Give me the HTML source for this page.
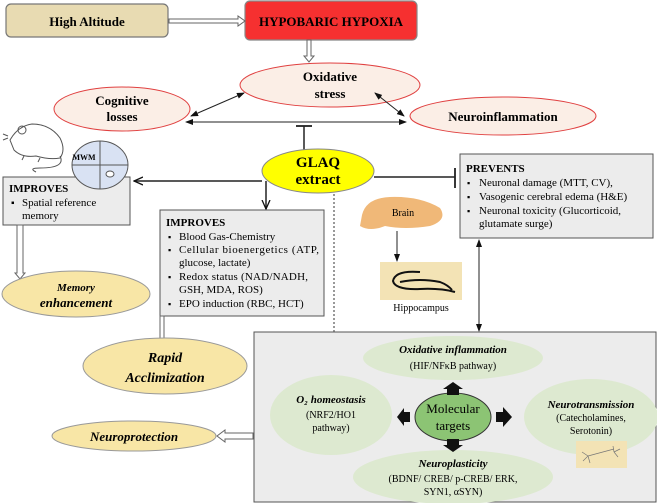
<!DOCTYPE html>
<html><head><meta charset="utf-8"><style>
body{margin:0;background:#fff}
svg{display:block;font-family:"Liberation Serif",serif}
</style></head><body>
<svg width="657" height="503" viewBox="0 0 657 503">
<defs>
<marker id="a" markerWidth="8" markerHeight="8" refX="7" refY="4" orient="auto-start-reverse" markerUnits="userSpaceOnUse"><path d="M0,1 L8,4 L0,7 z" fill="#111"/></marker>
<marker id="b" markerWidth="10" markerHeight="10" refX="9" refY="5" orient="auto-start-reverse" markerUnits="userSpaceOnUse"><path d="M0,1 L9,5 L0,9" fill="none" stroke="#111" stroke-width="1.3"/></marker>
</defs>
<rect x="6" y="4" width="162" height="33" rx="5" fill="#e8dbb2" stroke="#777" stroke-width="1.2"/>
<text x="87" y="26" text-anchor="middle" font-weight="bold" font-size="13">High Altitude</text>
<rect x="245" y="1" width="172" height="39" rx="5" fill="#f63030" stroke="#888" stroke-width="1.2"/>
<text x="331" y="26" text-anchor="middle" font-weight="bold" font-size="13">HYPOBARIC HYPOXIA</text>
<path d="M169,19 H238 V16 L245,21 L238,26 V23 H169 z" fill="#fff" stroke="#666"/>
<path d="M307,40 V56 H304 L309,62 L314,56 H311 V40 z" fill="#fff" stroke="#666"/>
<ellipse cx="330" cy="85" rx="90" ry="22" fill="#fbeee6" stroke="#e04040"/>
<text x="330" y="81" text-anchor="middle" font-weight="bold" font-size="13">Oxidative</text>
<text x="330" y="98" text-anchor="middle" font-weight="bold" font-size="13">stress</text>
<ellipse cx="122" cy="109" rx="68" ry="22" fill="#fbeee6" stroke="#e04040"/>
<text x="122" y="105" text-anchor="middle" font-weight="bold" font-size="13">Cognitive</text>
<text x="122" y="121" text-anchor="middle" font-weight="bold" font-size="13">losses</text>
<ellipse cx="503" cy="116" rx="93" ry="19" fill="#fbeee6" stroke="#e04040"/>
<text x="503" y="121" text-anchor="middle" font-weight="bold" font-size="13">Neuroinflammation</text>
<line x1="191" y1="116" x2="244" y2="93" stroke="#222" marker-start="url(#a)" marker-end="url(#a)"/>
<line x1="375" y1="93" x2="404" y2="116" stroke="#222" marker-start="url(#a)" marker-end="url(#a)"/>
<line x1="186" y1="122" x2="406" y2="122" stroke="#222" marker-start="url(#a)" marker-end="url(#a)"/>
<line x1="304" y1="126" x2="304" y2="151" stroke="#222" stroke-width="1.5"/>
<line x1="296" y1="126" x2="312" y2="126" stroke="#222" stroke-width="1.8"/>
<ellipse cx="318" cy="171" rx="56" ry="22" fill="#ffff00" stroke="#888"/>
<text x="318" y="167" text-anchor="middle" font-weight="bold" font-size="15">GLAQ</text>
<text x="318" y="184" text-anchor="middle" font-weight="bold" font-size="15">extract</text>
<line x1="262" y1="181" x2="134" y2="181" stroke="#222" stroke-width="1.5" marker-end="url(#b)"/>
<line x1="266" y1="181" x2="266" y2="209" stroke="#222" stroke-width="1.5" marker-end="url(#b)"/>
<line x1="374" y1="177" x2="455" y2="177" stroke="#222" stroke-width="1.5"/>
<line x1="455" y1="168" x2="455" y2="188" stroke="#222" stroke-width="1.8"/>
<line x1="334" y1="194" x2="334" y2="333" stroke="#333" stroke-dasharray="2,2"/>
<g fill="none" stroke="#555" stroke-width="1">
<path d="M10,140 Q18,126 32,124 Q50,124 60,138 Q66,150 60,158 Q50,160 36,156 Q22,158 14,150 z"/>
<path d="M60,156 Q66,168 40,168 Q28,168 36,172"/>
<path d="M24,156 L22,160 M40,158 L38,162"/>
<circle cx="22" cy="130" r="4"/>
<path d="M8,136 L3,134 M8,138 L3,140"/>
</g>
<rect x="3" y="177" width="127" height="48" fill="#ececec" stroke="#555"/>
<text x="9" y="192" font-weight="bold" font-size="11">IMPROVES</text>
<text x="11" y="206" font-size="10">▪</text><text x="22" y="206" font-size="11">Spatial reference</text>
<text x="22" y="219" font-size="11">memory</text>
<ellipse cx="100" cy="165" rx="28" ry="24" fill="#d9e2f3" stroke="#555"/>
<line x1="72" y1="165" x2="128" y2="165" stroke="#555"/>
<line x1="100" y1="141" x2="100" y2="189" stroke="#555"/>
<ellipse cx="110" cy="174" rx="4" ry="3" fill="#fff" stroke="#555"/>
<text x="84" y="160" text-anchor="middle" font-weight="bold" font-size="8">MWM</text>
<path d="M17,225 V273 H15 L20,279 L25,273 H23 V225 z" fill="#fff" stroke="#666"/>
<ellipse cx="76" cy="294" rx="74" ry="23" fill="#f8e6a6" stroke="#999"/>
<text x="76" y="291" text-anchor="middle" font-weight="bold" font-style="italic" font-size="11">Memory</text>
<text x="76" y="307" text-anchor="middle" font-weight="bold" font-style="italic" font-size="13">enhancement</text>
<rect x="160" y="210" width="164" height="106" fill="#ececec" stroke="#555"/>
<text x="166" y="226" font-weight="bold" font-size="11">IMPROVES</text>
<g font-size="11">
<text x="168" y="240" font-size="9">▪</text><text x="179" y="240">Blood Gas-Chemistry</text>
<text x="168" y="253" font-size="9">▪</text><text x="179" y="253" textLength="140">Cellular bioenergetics (ATP,</text>
<text x="179" y="266">glucose, lactate)</text>
<text x="168" y="280" font-size="9">▪</text><text x="179" y="280" textLength="129">Redox status (NAD/NADH,</text>
<text x="179" y="293">GSH, MDA, ROS)</text>
<text x="168" y="307" font-size="9">▪</text><text x="179" y="307">EPO induction (RBC, HCT)</text>
</g>
<path d="M160,316 V342 H157 L162,348 L167,342 H164 V316 z" fill="#fff" stroke="#666"/>
<ellipse cx="165" cy="366" rx="82" ry="28" fill="#f8e6a6" stroke="#999"/>
<text x="165" y="362" text-anchor="middle" font-weight="bold" font-style="italic" font-size="14">Rapid</text>
<text x="165" y="382" text-anchor="middle" font-weight="bold" font-style="italic" font-size="14">Acclimization</text>
<ellipse cx="134" cy="436" rx="82" ry="15" fill="#f8e6a6" stroke="#999"/>
<text x="134" y="441" text-anchor="middle" font-weight="bold" font-style="italic" font-size="13">Neuroprotection</text>
<path d="M253,433 H225 V430 L217,436 L225,442 V439 H253 z" fill="#fff" stroke="#666"/>
<rect x="460" y="154" width="193" height="84" fill="#ececec" stroke="#555"/>
<text x="466" y="172" font-weight="bold" font-size="11">PREVENTS</text>
<g font-size="11">
<text x="467" y="186" font-size="9">▪</text><text x="479" y="186">Neuronal damage (MTT, CV),</text>
<text x="467" y="200" font-size="9">▪</text><text x="479" y="200">Vasogenic cerebral edema (H&amp;E)</text>
<text x="467" y="214" font-size="9">▪</text><text x="479" y="214">Neuronal toxicity (Glucorticoid,</text>
<text x="479" y="227">glutamate surge)</text>
</g>
<path d="M362,215 Q366,198 390,197 Q420,196 440,208 Q448,220 430,226 Q405,230 385,226 Q370,232 360,226 z" fill="#f0b878"/>
<text x="403" y="216" text-anchor="middle" font-size="10">Brain</text>
<line x1="397" y1="231" x2="397" y2="261" stroke="#222" marker-end="url(#a)"/>
<rect x="380" y="262" width="82" height="38" fill="#f3e3b5"/>
<path d="M420,272 Q395,270 393,281 Q395,290 420,289 Q440,288 455,292 M400,282 Q420,278 440,282 Q448,285 452,290" fill="none" stroke="#111" stroke-width="2"/>
<text x="421" y="311" text-anchor="middle" font-size="10">Hippocampus</text>
<line x1="479" y1="240" x2="479" y2="331" stroke="#222" marker-start="url(#a)" marker-end="url(#a)"/>
<rect x="254" y="332" width="402" height="170" fill="#ececec" stroke="#555"/>
<ellipse cx="453" cy="358" rx="90" ry="22" fill="#dde9d0"/>
<text x="453" y="353" text-anchor="middle" font-weight="bold" font-style="italic" font-size="11">Oxidative inflammation</text>
<text x="453" y="369" text-anchor="middle" font-size="10">(HIF/NFκB pathway)</text>
<ellipse cx="331" cy="415" rx="61" ry="40" fill="#dde9d0"/>
<text x="331" y="403" text-anchor="middle" font-weight="bold" font-style="italic" font-size="11">O₂ homeostasis</text>
<text x="331" y="418" text-anchor="middle" font-size="10">(NRF2/HO1</text>
<text x="331" y="431" text-anchor="middle" font-size="10">pathway)</text>
<ellipse cx="591" cy="417" rx="67" ry="38" fill="#dde9d0"/>
<text x="591" y="408" text-anchor="middle" font-weight="bold" font-style="italic" font-size="11">Neurotransmission</text>
<text x="591" y="421" text-anchor="middle" font-size="10">(Catecholamines,</text>
<text x="591" y="434" text-anchor="middle" font-size="10">Serotonin)</text>
<ellipse cx="453" cy="477" rx="100" ry="27" fill="#dde9d0"/>
<text x="453" y="467" text-anchor="middle" font-weight="bold" font-style="italic" font-size="11">Neuroplasticity</text>
<text x="453" y="482" text-anchor="middle" font-size="10">(BDNF/ CREB/ p-CREB/ ERK,</text>
<text x="453" y="495" text-anchor="middle" font-size="10">SYN1, αSYN)</text>
<ellipse cx="453" cy="417" rx="38" ry="24" fill="#8cc474" stroke="#333"/>
<text x="453" y="413" text-anchor="middle" font-size="13">Molecular</text>
<text x="453" y="430" text-anchor="middle" font-size="13">targets</text>
<path d="M447,395 V389 H443 L453,382 L463,389 H459 V395 z" fill="#111"/>
<path d="M447,439 V445 H443 L453,452 L463,445 H459 V439 z" fill="#111"/>
<path d="M410,412 H404 V408 L397,417 L404,426 V422 H410 z" fill="#111"/>
<path d="M496,412 H503 V407 L512,417 L503,427 V422 H496 z" fill="#111"/>
<rect x="576" y="441" width="51" height="27" fill="#f3e3b5"/>
<g stroke="#777" stroke-width="0.7" fill="none"><path d="M588,456 L614,449 M588,456 l-6,-4 m6,4 l-5,5 m5,-5 l2,7 m24,-11 l6,-3 m-6,3 l4,5 m-4,-5 l-1,-6"/></g>
</svg>
</body></html>
